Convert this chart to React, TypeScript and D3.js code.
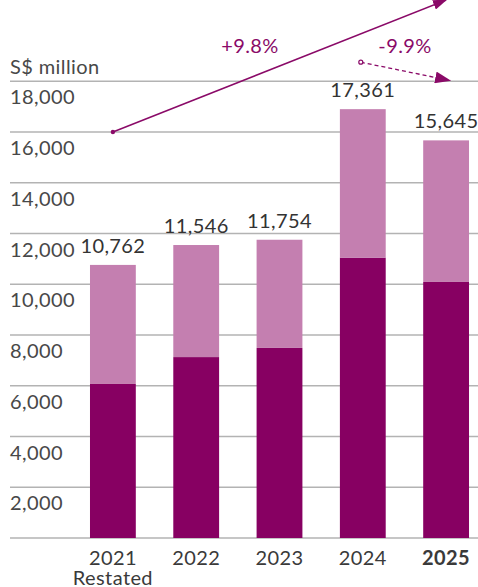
import React from "react";
import * as d3 from "d3";

const categories = ["2021", "2022", "2023", "2024", "2025"];
const subLabels = ["Restated", "", "", "", ""];
const totalLabels = [10762, 11546, 11754, 17361, 15645];
const darkValues = [6070, 7130, 7490, 11050, 10090];
const lightValues = [4692, 4416, 4264, 5850, 5580];
const yTicks = [2000, 4000, 6000, 8000, 10000, 12000, 14000, 16000, 18000];
const growthLabels = ["+9.8%", "-9.9%"];

const W = 478;
const H = 587;
const DARK = "#870062";
const LIGHT = "#c47fb0";
const PURPLE = "#8a0a68";
const FONT = "Lato, 'Open Sans', sans-serif";
const FS = 20;
const LS = 0.4;

export default function App() {
  const y = d3.scaleLinear().domain([0, 18000]).range([538, 81.25]);
  const x = d3.scaleBand().domain(categories).range([52.5, 506.5]).paddingInner(0.45).paddingOuter(0.45);
  const bw = x.bandwidth();
  const cx = (c: string) => (x(c) as number) + bw / 2;
  const fmt = d3.format(",");

  const s0 = [cx("2021"), y(16000)];
  const s1 = [cx("2025"), y(21200)];
  const d0 = [cx("2024") - 2, y(18750)];
  const d1 = [cx("2025") + 4, y(18030)];

  return (
    <svg width={W} height={H} style={{ position: "absolute", left: 0, top: 0, background: "#fff" }} fontFamily={FONT} letterSpacing={LS}>
      <defs>
        <marker id="headS" markerUnits="userSpaceOnUse" markerWidth="14" markerHeight="10" refX="13" refY="5" orient="auto" viewBox="0 0 14 10">
          <path d="M0,0 L14,5 L0,10 Z" fill={PURPLE} />
        </marker>
        <marker id="headD" markerUnits="userSpaceOnUse" markerWidth="16" markerHeight="12" refX="15" refY="6" orient="auto" viewBox="0 0 16 12">
          <path d="M0,0 L16,6 L0,12 Z" fill={PURPLE} />
        </marker>
      </defs>
      {/* cropped title descender */}
      <text x={158} y={-5} fontSize={30} fontWeight={700} fill="#222">p</text>

      <text x={10} y={74} fontSize={FS} fill="#484848">S$ million</text>

      {/* gridlines */}
      {[0, ...yTicks].map((t) => (
        <line key={t} x1={10} x2={W} y1={y(t)} y2={y(t)} stroke="#b3b3b3" strokeWidth={1.5} />
      ))}
      {yTicks.map((t) => (
        <text key={t} x={10} y={y(t) + 23} fontSize={FS} fill="#484848">{fmt(t)}</text>
      ))}

      {/* bars */}
      {categories.map((c, i) => (
        <g key={c}>
          <rect x={x(c)} width={bw} y={y(darkValues[i])} height={y(0) - y(darkValues[i])} fill={DARK} />
          <rect x={x(c)} width={bw} y={y(darkValues[i] + lightValues[i])} height={y(darkValues[i]) - y(darkValues[i] + lightValues[i])} fill={LIGHT} />
          <text x={cx(c)} y={y(darkValues[i] + lightValues[i]) - 12} textAnchor="middle" fontSize={FS} fill="#333">{fmt(totalLabels[i])}</text>
          <text x={cx(c)} y={565} textAnchor="middle" fontSize={FS} fontWeight={i === 4 ? 700 : 400} fill="#3a3a3a">{c}</text>
          {subLabels[i] && (
            <text x={cx(c)} y={585} textAnchor="middle" fontSize={FS} fill="#3a3a3a">{subLabels[i]}</text>
          )}
        </g>
      ))}

      {/* growth arrows */}
      <line x1={s0[0]} y1={s0[1]} x2={s1[0]} y2={s1[1]} stroke={PURPLE} strokeWidth={1.5} markerEnd="url(#headS)" />
      <circle cx={s0[0]} cy={s0[1]} r={2.2} fill={PURPLE} />
      <line x1={d0[0]} y1={d0[1]} x2={d1[0]} y2={d1[1]} stroke={PURPLE} strokeWidth={1.3} strokeDasharray="4,3" markerEnd="url(#headD)" />
      <circle cx={d0[0]} cy={d0[1]} r={2} fill="#fff" stroke={PURPLE} strokeWidth={1.2} />
      <text x={250} y={53} textAnchor="middle" fontSize={FS} fill={PURPLE}>{growthLabels[0]}</text>
      <text x={405} y={53} textAnchor="middle" fontSize={FS} fill={PURPLE}>{growthLabels[1]}</text>
    </svg>
  );
}
